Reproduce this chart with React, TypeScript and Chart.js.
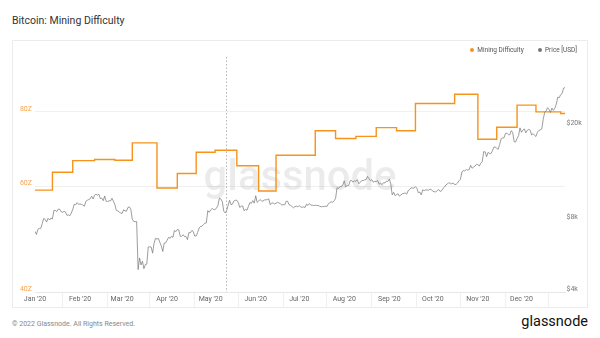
import React, { useEffect, useRef } from "react";
import { Chart, registerables } from "chart.js";

Chart.register(...registerables);

// ---- axis labels / ticks ----
const monthLabels = ["Jan '20", "Feb '20", "Mar '20", "Apr '20", "May '20", "Jun '20", "Jul '20", "Aug '20", "Sep '20", "Oct '20", "Nov '20", "Dec '20"];
const monthStartDays = [0, 31, 60, 91, 121, 152, 182, 213, 244, 274, 305, 335];
const lastDay = 365;
const leftTicksZ = [40, 60, 80];
const rightTicksUsd = [4000, 8000, 20000];
const halvingDay = 131.8;

// ---- mining difficulty (Z hashes), value holds from the given day ----
const diffChangeDays = [0, 12, 26, 41, 55, 67, 84, 98, 111, 124, 139, 154, 166, 193, 207, 221, 235, 249, 262, 289, 305, 318, 332, 345, 362];
const diffValuesZ = [59.2, 63.4, 66.3, 66.6, 66.4, 71.0, 59.7, 63.1, 68.5, 69.0, 65.0, 59.0, 67.7, 74.4, 72.2, 72.8, 75.3, 74.4, 82.6, 85.6, 72.0, 75.4, 82.1, 80.0, 79.5];

// ---- BTC price (USD), daily ----
const priceJan = [7200, 6985, 7345, 7410, 7411, 7770, 8163, 8080, 7880, 8166, 8037, 8193, 8120, 8813, 8820, 8720, 8930, 8920, 8710, 8660, 8745, 8680, 8406, 8445, 8367, 8597, 8910, 9358, 9316, 9508, 9350];
const priceFeb = [9392, 9345, 9294, 9180, 9613, 9729, 9796, 9865, 10116, 9856, 10208, 10326, 10214, 10312, 9890, 9935, 9690, 10141, 9633, 9608, 9686, 9663, 9924, 9650, 9341, 8820, 8784, 8672, 8599];
const priceMar = [8562, 8869, 8787, 8755, 9078, 9122, 8909, 8108, 7923, 7909, 7911, 4970, 5563, 5200, 5392, 5014, 5225, 5238, 6191, 6198, 6185, 5830, 6416, 6734, 6681, 6716, 6469, 6242, 5922, 6429, 6438];
const priceApr = [6606, 6793, 6733, 6867, 6791, 7271, 7176, 7334, 7302, 6865, 6859, 6971, 6845, 6842, 6642, 7116, 7096, 7257, 7189, 6881, 6880, 7117, 7429, 7550, 7569, 7679, 7795, 7807, 8801, 8658];
const priceMay = [8864, 8989, 8897, 8912, 9003, 9268, 9951, 9842, 9593, 8756, 8601, 8804, 9269, 9733, 9328, 9377, 9670, 9726, 9729, 9523, 9081, 9182, 9209, 8790, 8906, 8835, 9181, 9525, 9439, 9700, 9461];
const priceJun = [10167, 9529, 9656, 9800, 9665, 9653, 9758, 9771, 9785, 9870, 9321, 9480, 9475, 9386, 9454, 9538, 9480, 9411, 9288, 9332, 9303, 9648, 9629, 9313, 9264, 9162, 9045, 9143, 9190, 9137];
const priceJul = [9228, 9123, 9087, 9132, 9073, 9375, 9252, 9428, 9277, 9278, 9240, 9276, 9243, 9243, 9192, 9132, 9151, 9159, 9185, 9164, 9374, 9525, 9581, 9536, 9677, 9905, 10990, 10912, 11100, 11111, 11323];
const priceAug = [11759, 11053, 11246, 11205, 11747, 11779, 11601, 11754, 11675, 11878, 11410, 11584, 11784, 11768, 11865, 11892, 12254, 11991, 11758, 11878, 11592, 11681, 11664, 11774, 11366, 11488, 11323, 11542, 11506, 11711, 11680];
const priceSep = [11970, 11414, 10245, 10511, 10169, 10280, 10369, 10131, 10242, 10363, 10400, 10442, 10324, 10680, 10796, 10974, 10948, 10944, 11094, 10938, 10462, 10538, 10246, 10760, 10692, 10750, 10775, 10709, 10844, 10784];
const priceOct = [10619, 10575, 10550, 10677, 10797, 10602, 10669, 10915, 11065, 11296, 11385, 11555, 11425, 11430, 11505, 11319, 11360, 11503, 11750, 11916, 12823, 12965, 12931, 13108, 13031, 13075, 13654, 13272, 13437, 13546, 13780];
const priceNov = [13737, 13550, 13950, 14133, 15579, 15565, 14833, 15479, 15332, 15290, 15701, 16276, 16317, 16068, 15955, 16716, 17645, 17804, 17817, 18621, 18642, 18370, 18364, 19107, 18732, 17150, 17108, 17717, 18177, 19625];
const priceDec = [18802, 19201, 19446, 18699, 19154, 19345, 19192, 18321, 18553, 18264, 18058, 18803, 19142, 19246, 19417, 21310, 22805, 23137, 23869, 23477, 22803, 23783, 23241, 23736, 24665, 26437, 26272, 27084, 27362, 28840, 29001];

const FONT = 'Roboto, "Noto Sans", sans-serif';
const ORANGE = "#f7931a";

export default function App() {
  const ref = useRef<HTMLCanvasElement | null>(null);

  useEffect(() => {
    if (!ref.current) return;
    const allPrices = [priceJan, priceFeb, priceMar, priceApr, priceMay, priceJun, priceJul, priceAug, priceSep, priceOct, priceNov, priceDec].flat();
    const pricePoints = allPrices.map((p, i) => ({ x: i, y: p }));
    const diffPoints = diffChangeDays.map((d, i) => ({ x: d, y: diffValuesZ[i] }));
    diffPoints.push({ x: lastDay, y: diffValuesZ[diffValuesZ.length - 1] });

    const decor = {
      id: "decor",
      beforeDatasetsDraw(chart: any) {
        const { ctx, chartArea } = chart;
        ctx.save();
        // watermark
        ctx.font = `500 100px ${FONT}`;
        const w100 = ctx.measureText("glassnode").width;
        const size = (100 * 193) / w100;
        ctx.font = `500 ${size}px ${FONT}`;
        ctx.fillStyle = "rgba(0,0,0,0.08)";
        ctx.textAlign = "center";
        ctx.textBaseline = "alphabetic";
        const cx = (chartArea.left + chartArea.right) / 2;
        const cy = (chartArea.top + chartArea.bottom) / 2;
        ctx.fillText("glassnode", cx, cy + 15.5);
        // halving marker
        const hx = Math.round(chart.scales.x.getPixelForValue(halvingDay)) + 0.5;
        ctx.strokeStyle = "#b5b5b5";
        ctx.lineWidth = 1;
        ctx.setLineDash([1.5, 2]);
        ctx.beginPath();
        ctx.moveTo(hx, chartArea.top);
        ctx.lineTo(hx, chartArea.bottom);
        ctx.stroke();
        ctx.setLineDash([]);
        // faint x tick marks below axis
        ctx.strokeStyle = "#f0f0f0";
        monthStartDays.forEach((d) => {
          const px = Math.round(chart.scales.x.getPixelForValue(d) + 27) + 0.5;
          if (px < chartArea.right) {
            ctx.beginPath();
            ctx.moveTo(px, chartArea.bottom + 1);
            ctx.lineTo(px, chart.height - 1);
            ctx.stroke();
          }
        });
        ctx.restore();
      },
    };

    const chart = new Chart(ref.current, {
      type: "line",
      data: {
        datasets: [
          {
            label: "Price [USD]",
            data: pricePoints,
            yAxisID: "yR",
            borderColor: "rgba(125,125,125,0.95)",
            borderWidth: 0.8,
            pointRadius: 0,
            tension: 0,
            order: 0,
          },
          {
            label: "Mining Difficulty",
            data: diffPoints,
            yAxisID: "yL",
            borderColor: ORANGE,
            borderWidth: 1.4,
            pointRadius: 0,
            stepped: "before",
            order: 1,
          },
        ],
      },
      options: {
        responsive: false,
        animation: false,
        events: [],
        layout: { padding: { top: 17, left: 0, right: 0, bottom: 0 } },
        plugins: { legend: { display: false }, tooltip: { enabled: false } },
        scales: {
          x: {
            type: "linear",
            min: 0,
            max: lastDay,
            afterBuildTicks: (s: any) => {
              s.ticks = monthStartDays.map((v) => ({ value: v }));
            },
            afterFit: (s: any) => {
              s.height = 16;
            },
            ticks: {
              autoSkip: false,
              maxRotation: 0,
              padding: 3.5,
              color: "#666",
              font: { family: FONT, size: 7 },
              callback: (_v: any, i: number) => monthLabels[i],
            },
            grid: { drawOnChartArea: false, drawTicks: false, color: "rgba(0,0,0,0)" },
            border: { display: true, color: "#e8e8e8", width: 1 },
          },
          yL: {
            type: "logarithmic",
            position: "left",
            min: 40,
            max: 98.8,
            afterBuildTicks: (s: any) => {
              s.ticks = leftTicksZ.map((v) => ({ value: v }));
            },
            afterFit: (s: any) => {
              s.width = 23;
            },
            ticks: {
              padding: 3,
              labelOffset: -3,
              color: "#f6a24c",
              font: { family: FONT, size: 7 },
              callback: (v: any) => `${v}Z`,
            },
            grid: { color: "#f0f0f0", drawTicks: false },
            border: { display: false },
          },
          yR: {
            type: "logarithmic",
            position: "right",
            min: 4000,
            max: 39000,
            afterBuildTicks: (s: any) => {
              s.ticks = rightTicksUsd.map((v) => ({ value: v }));
            },
            afterFit: (s: any) => {
              s.width = 23;
            },
            ticks: {
              padding: 1.5,
              labelOffset: -3,
              color: "#777",
              font: { family: FONT, size: 7 },
              callback: (v: any) => `$${v / 1000}k`,
            },
            grid: { drawOnChartArea: false, drawTicks: false },
            border: { display: false },
          },
        },
      },
      plugins: [decor],
    } as any);
    return () => chart.destroy();
  }, []);

  const legendItem = (left: number, color: string, text: string) => (
    <div style={{ position: "absolute", left, top: 46, height: 8, display: "flex", alignItems: "center", fontSize: 6.5, color: "#555", whiteSpace: "nowrap", lineHeight: "8px" }}>
      <span style={{ width: 4, height: 4, borderRadius: 2, background: color, marginRight: 3, display: "inline-block" }} />
      <span>{text}</span>
    </div>
  );

  return (
    <div style={{ position: "fixed", left: 0, top: 0, width: 600, height: 338, background: "#fff", fontFamily: FONT, overflow: "hidden" }}>
      <div style={{ position: "absolute", left: 12, top: 15.7, fontSize: 10.5, lineHeight: 1, color: "#333", whiteSpace: "nowrap" }}>Bitcoin: Mining Difficulty</div>
      <div style={{ position: "absolute", left: 12, top: 40, width: 576, height: 268, boxSizing: "border-box", border: "1px solid #ececec" }} />
      <canvas ref={ref} width={576} height={268} style={{ position: "absolute", left: 12, top: 40, width: 576, height: 268 }} />
      {legendItem(470.3, ORANGE, "Mining Difficulty")}
      {legendItem(538, "#777", "Price [USD]")}
      <div style={{ position: "absolute", left: 12, top: 320.5, fontSize: 7, lineHeight: 1, color: "#888", whiteSpace: "nowrap" }}>© 2022 Glassnode. All Rights Reserved.</div>
      <div style={{ position: "absolute", right: 12, top: 315, fontSize: 14.5, lineHeight: 1, fontWeight: 400, color: "#111", whiteSpace: "nowrap" }}>glassnode</div>
    </div>
  );
}
